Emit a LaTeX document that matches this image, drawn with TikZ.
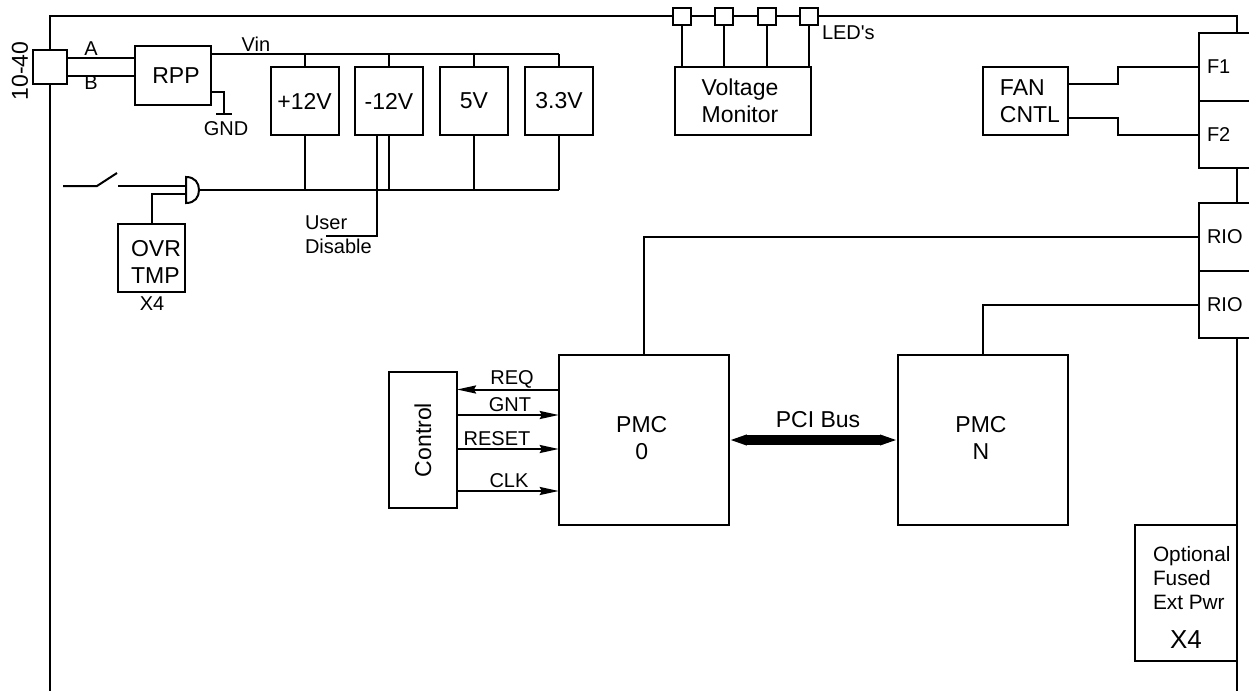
\documentclass[tikz,border=0pt]{standalone}
\usepackage{fontspec}
\setmainfont{Liberation Sans}
\usetikzlibrary{arrows.meta}
\begin{document}
\begin{tikzpicture}[
  x=0.5pt, y=-0.5pt,
  line width=1pt,
  big/.style={font=\fontsize{11.5}{13.5}\selectfont},
  small/.style={font=\fontsize{10}{12}\selectfont},
  block/.style={
    rectangle, draw=black, fill=white,
    inner sep=0pt, outer sep=0pt, align=center, big
  },
  psbox/.style={block, minimum width=34pt, minimum height=34pt},
  pmcbox/.style={block, minimum width=85pt, minimum height=85pt},
  ledbox/.style={block, minimum width=9pt, minimum height=8.5pt},
  portbox/.style={
    block, small, align=left, minimum height=33.75pt,
    text width=18.5pt, inner xsep=4pt
  },
  tag/.style={inner sep=0pt, outer sep=0pt, small},
  signal/.style={-{Stealth[length=9.5pt,width=4pt,inset=1pt]}},
  busline/.style={
    {Stealth[length=9pt,width=4.7pt,inset=0pt]}-{Stealth[length=9pt,width=4.7pt,inset=0pt]},
    line width=4.7pt
  },
]
\useasboundingbox (0,0) rectangle (1249,691);
\clip (0,0) rectangle (1249,691);

%% Board outline
\coordinate (frameleft) at (50,691);
\coordinate (frameright) at (1237,691);
\draw (frameleft) -- (50,16) -- (1237,16) -- (frameright);

%% Power input
\node[block, minimum width=17pt, minimum height=17pt] (conn) at (50,67) {};
\node[big, rotate=90, inner sep=0pt] (connlabel) at (20,71) {10-40};
\node[block, minimum width=38pt, minimum height=29.5pt] (rpp) at (173,75.5) {\hspace*{3pt}RPP};
\coordinate (wirea) at (0,58);
\coordinate (wireb) at (0,75.5);
\draw (conn.east |- wirea) -- (rpp.west |- wirea);
\draw (conn.east |- wireb) -- (rpp.west |- wireb);
\node[tag] (labela) at (91,49) {A};
\node[tag] (labelb) at (91,83) {B};
\node[tag] (labelvin) at (256,44) {Vin};
\node[tag] (labelgnd) at (226,129) {GND};
\coordinate (gndport) at (211,92);
\coordinate (gndfoot) at (224,114);
\draw (gndport) -| (gndfoot);
\draw ([xshift=-4pt]gndfoot) -- ([xshift=4pt]gndfoot);

%% Supplies
\node[psbox] (ps1) at (304.5,101) {+12V};
\node[psbox] (ps2) at (389,101) {-12V};
\node[psbox] (ps3) at (474,101) {5V};
\node[psbox] (ps4) at (559,101) {3.3V};
\coordinate (vinstart) at (211,54);
\coordinate (vinend) at (559,54);
\coordinate (enstart) at (199,190);
\coordinate (enend) at (559,190);
\draw (vinstart) -- (vinend);
\draw (enstart) -- (enend);
\foreach \name in {ps1,ps2,ps3,ps4} {
  \draw (\name.north) -- (\name.north |- vinend);
  \draw (\name.south) -- (\name.south |- enend);
}

%% User disable
\coordinate (distop) at (376.5,135);
\coordinate (disend) at (326,236);
\draw (distop) |- (disend);
\node[tag, anchor=west, align=left] (labeluser) at (305,235) {User\\Disable};

%% Switch and gate
\coordinate (swa) at (63,186);
\coordinate (swb) at (97,186);
\coordinate (swc) at (117,173);
\coordinate (swd) at (118,186);
\coordinate (gatea) at (186,186);
\coordinate (gateb) at (186,194);
\draw (swa) -- (swb) -- (swc);
\draw (swd) -- (gatea);
\node[block, minimum width=33.5pt, minimum height=34pt, align=left] (ovr) at (151.5,258)
  {\rule{0pt}{12pt}\hspace*{4.5pt}OVR\\\hspace*{4.5pt}TMP};
\node[tag] (labelx) at (152,304) {X4};
\draw (ovr.north) |- (gateb);
\draw[fill=white] (186,177) .. controls (195,177) and (199,183) .. (199,190)
  .. controls (199,197) and (195,203) .. (186,203) -- cycle;

%% LEDs
\node[block, minimum width=68pt, minimum height=34pt] (vmon) at (743,101)
  {Voltage\hspace*{3pt}\\Monitor\hspace*{3pt}};
\foreach \i/\xled in {1/682,2/724,3/766.5,4/809} {
  \node[ledbox] (led\i) at (\xled,16.5) {};
  \draw (led\i.south) -- (led\i.south |- vmon.north);
}
\node[tag, anchor=west] (labelled) at (822,33) {LED\textquotesingle s};

%% Fans
\node[block, minimum width=42.5pt, minimum height=34pt, align=left] (fan) at (1025.5,101)
  {\hspace*{4.5pt}FAN\\\hspace*{4.5pt}CNTL};
\node[portbox] (f1) at (1225.5,67) {F1};
\node[portbox] (f2) at (1225.5,134.5) {F2};
\coordinate (fanmid) at (1118,0);
\coordinate (fana) at (0,84);
\coordinate (fanb) at (0,118);
\draw (fan.east |- fana) -| (fanmid |- f1.west) -- (f1.west);
\draw (fan.east |- fanb) -| (fanmid |- f2.west) -- (f2.west);

%% Remote IO
\node[portbox] (rio1) at (1225.5,237) {RIO};
\node[portbox] (rio2) at (1225.5,304.5) {RIO};

%% PMC sites
\node[pmcbox] (pmc0) at (643.75,440) {\hspace*{-2pt}PMC\\\hspace*{-2pt}0\rule[-2pt]{0pt}{0pt}};
\node[pmcbox] (pmcn) at (983,440) {\hspace*{-2pt}PMC\\\hspace*{-2pt}N\rule[-2pt]{0pt}{0pt}};
\draw (pmc0.north) |- (rio1.west);
\draw (pmcn.north) |- (rio2.west);
\draw[busline] (pmc0.east) -- (pmcn.west);
\node[big, inner sep=0pt] (labelbus) at (818,420) {PCI Bus};

%% Control signals
\node[block, minimum width=34pt, minimum height=68pt] (ctrl) at (423,440)
  {\rotatebox{90}{Control}};
\foreach \name/\ysig in {sgnt/415,srst/449,sclk/491} {
  \coordinate (\name) at (0,\ysig);
  \draw[signal] (ctrl.east |- \name) -- (pmc0.west |- \name);
}
\coordinate (sreq) at (0,389.5);
\draw[signal] (pmc0.west |- sreq) -- (ctrl.east |- sreq);
\node[tag] (labelreq) at (512,379) {REQ};
\node[tag] (labelgnt) at (510,405) {GNT};
\node[tag] (labelrst) at (497,439) {RESET};
\node[tag] (labelclk) at (509,481) {CLK};

%% Optional power
\node[block, minimum width=51pt, minimum height=68pt] (opt) at (1186,593) {};
\node[tag, anchor=west, align=left, font=\fontsize{10.4}{12.2}\selectfont] (opttext) at (1153,578)
  {Optional\\Fused\\Ext Pwr};
\node[inner sep=0pt, font=\fontsize{13}{15}\selectfont] (optcount) at (1186,640) {X4};
\end{tikzpicture}
\end{document}
